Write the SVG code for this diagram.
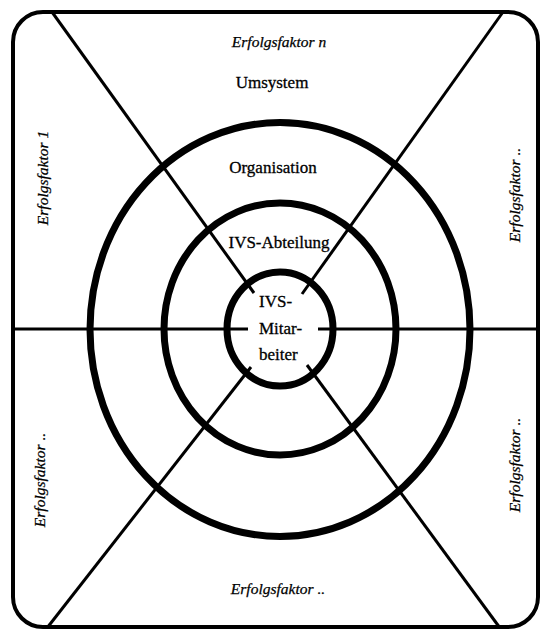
<svg xmlns="http://www.w3.org/2000/svg" width="545" height="630" viewBox="0 0 545 630">
  <style>
    .frame { fill: none; stroke: #000; stroke-width: 4; }
    .ring { fill: none; stroke: #000; stroke-width: 7; }
    .spoke { stroke: #000; stroke-width: 3; stroke-linecap: butt; }
    .lbl { font-family: "Liberation Serif", "DejaVu Serif", serif; font-size: 17px; fill: #000; stroke: #000; stroke-width: 0.3; }
    .ef { font-family: "Liberation Serif", "DejaVu Serif", serif; font-size: 15.5px; font-style: italic; fill: #000; stroke: #000; stroke-width: 0.25; }
  </style>
  <rect width="545" height="630" fill="#fff"/>

  <!-- outer frame -->
  <rect class="frame" x="13" y="12" width="525" height="615" rx="30" ry="30"/>

  <!-- spokes dividing the frame into the sectors -->
  <g id="connectors">
    <line class="spoke" x1="52" y1="12" x2="254" y2="293"/>
    <line class="spoke" x1="503" y1="12" x2="302" y2="294"/>
    <line class="spoke" x1="47" y1="628" x2="251" y2="367"/>
    <line class="spoke" x1="500" y1="628" x2="307" y2="365"/>
    <line class="spoke" x1="13" y1="329" x2="248" y2="329"/>
    <line class="spoke" x1="318" y1="329" x2="538" y2="329"/>
  </g>

  <!-- nested levels -->
  <g id="organisation">
    <ellipse class="ring" cx="280" cy="329.5" rx="190" ry="207"/>
    <text class="lbl" x="273" y="173" text-anchor="middle">Organisation</text>
  </g>
  <g id="ivs-abteilung">
    <ellipse class="ring" cx="280" cy="329" rx="116" ry="126"/>
    <text class="lbl" x="279" y="248" text-anchor="middle">IVS-Abteilung</text>
  </g>
  <g id="ivs-mitarbeiter">
    <ellipse class="ring" cx="280" cy="329" rx="53" ry="57"/>
    <text class="lbl" x="259" y="307">IVS-</text>
    <text class="lbl" x="259" y="334">Mitar-</text>
    <text class="lbl" x="259" y="360">beiter</text>
  </g>
  <g id="umsystem">
    <text class="lbl" x="272" y="88" text-anchor="middle">Umsystem</text>
  </g>

  <!-- success factors -->
  <g id="erfolgsfaktor-n">
    <text class="ef" x="279" y="47" text-anchor="middle">Erfolgsfaktor n</text>
  </g>
  <g id="erfolgsfaktor-1">
    <text class="ef" transform="translate(48 178) rotate(-90)" text-anchor="middle">Erfolgsfaktor 1</text>
  </g>
  <g id="erfolgsfaktor-right-top">
    <text class="ef" transform="translate(520 195) rotate(-90)" text-anchor="middle">Erfolgsfaktor ..</text>
  </g>
  <g id="erfolgsfaktor-left-bottom">
    <text class="ef" transform="translate(45 480) rotate(-90)" text-anchor="middle">Erfolgsfaktor ..</text>
  </g>
  <g id="erfolgsfaktor-right-bottom">
    <text class="ef" transform="translate(520 465) rotate(-90)" text-anchor="middle">Erfolgsfaktor ..</text>
  </g>
  <g id="erfolgsfaktor-bottom">
    <text class="ef" x="278" y="594" text-anchor="middle">Erfolgsfaktor ..</text>
  </g>
</svg>
